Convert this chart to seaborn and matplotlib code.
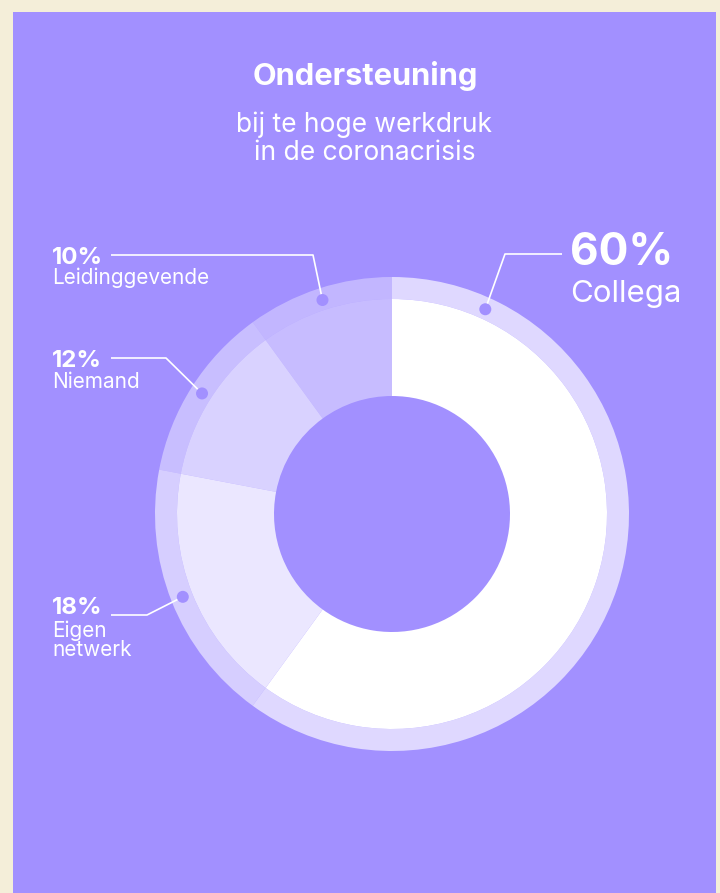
import matplotlib
matplotlib.use("Agg")
import matplotlib.pyplot as plt
import seaborn as sns
import numpy as np
from matplotlib.patches import Rectangle, Circle

# ---- data ----
categories = ["Collega", "Eigen netwerk", "Niemand", "Leidinggevende"]
shares = [60, 18, 12, 10]
pct_labels = ["60%", "18%", "12%", "10%"]
name_lines = [["Collega"], ["Eigen", "netwerk"], ["Niemand"], ["Leidinggevende"]]
title = "Ondersteuning"
subtitle = ["bij te hoge werkdruk", "in de coronacrisis"]

# ---- style ----
sns.set_style("white")
FONT = ["Inter", "DejaVu Sans"]
plt.rcParams["font.family"] = FONT

W, H = 720, 893
BEIGE = "#F4EED9"
BG = "#A290FF"
wedge_alpha = [1.0, 0.79, 0.60, 0.40]
ring_alpha = [0.66, 0.56, 0.42, 0.35]

fig = plt.figure(figsize=(7.2, 8.93), dpi=100, facecolor=BEIGE)
ax = fig.add_axes([0, 0, 1, 1])
ax.set_facecolor(BEIGE)

def Y(py):
    return H - py

CX, CY = 392, Y(514)
R_OUT, R_MID, R_IN = 237, 215, 118

ax.add_patch(Rectangle((13, 0), 716 - 13, H - 12, facecolor=BG, edgecolor="none", zorder=0))

ax.pie(shares, radius=R_OUT, center=(CX, CY), startangle=90, counterclock=False,
       colors=[(1, 1, 1, a) for a in ring_alpha],
       wedgeprops=dict(width=R_OUT - R_MID, linewidth=0), frame=True)
ax.pie(shares, radius=R_MID, center=(CX, CY), startangle=90, counterclock=False,
       colors=[(1, 1, 1, a) for a in wedge_alpha],
       wedgeprops=dict(width=R_MID - R_IN, linewidth=0), frame=True)

ax.set_xlim(0, W)
ax.set_ylim(0, H)
ax.set_aspect("equal")
ax.axis("off")

# ---- annotation anchors (dots on the ring) ----
anchor_override = [65.5, None, None, None]
R_DOT = (R_OUT + R_MID) / 2 - 1
cum = np.cumsum([0] + shares[:-1])
# leader elbows / ends and label layout in pixel coords
elbows = [(505, 254), (147, 615), (166, 358), (313, 255)]
ends = [(562, 254), (111, 615), (111, 358), (111, 255)]
label_x = [570, 52, 52, 52]
pct_base = [265, 614, 367, 264]
name_base = [[302], [637, 656], [388], [284]]

renderer = fig.canvas.get_renderer()

def fit(t, target_w):
    bb = t.get_window_extent(renderer)
    t.set_fontsize(t.get_fontsize() * target_w / bb.width)
    return t.get_fontsize()

# font sizes fitted on reference widths
tmp = ax.text(0, 0, "10%", fontsize=10, fontweight="bold")
s_pct = fit(tmp, 51); tmp.remove()
tmp = ax.text(0, 0, "Leidinggevende", fontsize=10)
s_name = fit(tmp, 158); tmp.remove()
tmp = ax.text(0, 0, "60%", fontsize=10, fontweight="bold")
s_pct_big = fit(tmp, 103); tmp.remove()
tmp = ax.text(0, 0, "Collega", fontsize=10)
s_name_big = fit(tmp, 112); tmp.remove()

for i, v in enumerate(shares):
    ang = anchor_override[i]
    if ang is None:
        ang = 90 - 360 * (cum[i] + v / 2) / sum(shares)
    a = np.deg2rad(ang)
    dx, dy = CX + R_DOT * np.cos(a), CY + R_DOT * np.sin(a)
    ax.add_patch(Circle((dx, dy), 6, facecolor=BG, edgecolor="none", zorder=5))
    ex, ey = elbows[i]
    fx, fy = ends[i]
    ax.plot([dx, ex, fx], [dy, Y(ey), Y(fy)], color="white", lw=1.2,
            solid_capstyle="butt", zorder=4)
    big = i == 0
    ax.text(label_x[i], Y(pct_base[i]), pct_labels[i], color="white",
            fontsize=s_pct_big if big else s_pct, fontweight="bold",
            ha="left", va="baseline", zorder=6)
    for line, b in zip(name_lines[i], name_base[i]):
        ax.text(label_x[i], Y(b), line, color="white",
                fontsize=s_name_big if big else s_name,
                ha="left", va="baseline", zorder=6)

# ---- title ----
t = ax.text(365, Y(85), title, color="white", fontsize=10, fontweight="bold",
            ha="center", va="baseline")
fit(t, 226)
t1 = ax.text(364, Y(132), subtitle[0], color="white", fontsize=10,
             ha="center", va="baseline")
s_sub = fit(t1, 258)
ax.text(365, Y(160), subtitle[1], color="white", fontsize=s_sub,
        ha="center", va="baseline")

fig.savefig("out.png", dpi=100, facecolor=BEIGE)
